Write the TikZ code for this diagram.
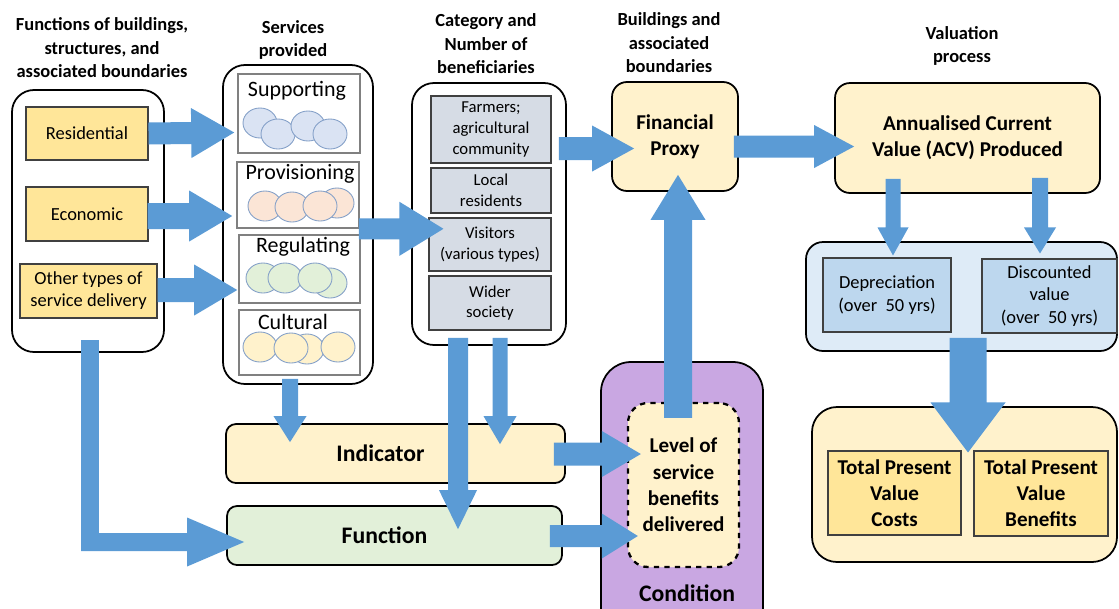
\documentclass[tikz,border=0pt]{standalone}
\usepackage{fontspec}
\setmainfont{Carlito}
\usetikzlibrary{calc}
\usetikzlibrary{positioning}
\definecolor{arrowblue}{RGB}{91,155,213}
\definecolor{gold}{RGB}{255,230,153}
\definecolor{cream}{RGB}{255,242,204}
\definecolor{slate}{RGB}{214,220,229}
\definecolor{paleblue}{RGB}{222,235,247}
\definecolor{midblue}{RGB}{189,215,238}
\definecolor{palegreen}{RGB}{226,240,217}
\definecolor{lilac}{RGB}{201,167,226}
\definecolor{peach}{RGB}{251,229,214}
\definecolor{skyfill}{RGB}{218,227,243}
\definecolor{ellline}{RGB}{132,160,200}
\definecolor{edgegray}{RGB}{64,64,64}
% block arrow: start, tip, shaft half width, head half width, head length (px)
\newcommand{\blockarrow}[5]{%
  \coordinate (hb) at ($(#2)!#5*0.2mm!(#1)$);
  \fill[arrowblue] ($(#1)!#3*0.2mm!90:(#2)$) -- ($(hb)!#3*0.2mm!-90:(#1)$)
    -- ($(hb)!#4*0.2mm!-90:(#1)$) -- (#2) -- ($(hb)!#4*0.2mm!90:(#1)$)
    -- ($(hb)!#3*0.2mm!90:(#1)$) -- ($(#1)!#3*0.2mm!-90:(#2)$) -- cycle;
}
\tikzset{
  heading/.style={align=center, font=\fontsize{10.5}{13.4}\selectfont\bfseries, inner sep=0pt},
  holder/.style={draw=black, line width=1pt, fill=white, rounded corners=4.4mm},
  goldbox/.style={draw=edgegray, line width=0.6pt, fill=gold, align=center, inner sep=0pt,
    font=\fontsize{10.5}{12.5}\selectfont},
  servbox/.style={draw=gray, line width=0.9pt, fill=white, inner sep=0pt},
  servtitle/.style={font=\fontsize{12.5}{14}\selectfont, inner sep=0pt},
  benbox/.style={draw=edgegray, line width=0.6pt, fill=slate, align=center, inner sep=0pt,
    font=\fontsize{9.5}{11.9}\selectfont},
  roundbox/.style={draw=black, line width=1pt, rounded corners=3mm, align=center, inner sep=0pt,
    font=\fontsize{12}{15}\selectfont\bfseries},
  bandbox/.style={draw=black, line width=1pt, rounded corners=2mm, inner sep=0pt,
    font=\fontsize{13.5}{15}\selectfont\bfseries},
  valbox/.style={draw=edgegray, line width=0.6pt, fill=midblue, align=center, inner sep=0pt,
    font=\fontsize{10.5}{13}\selectfont},
  totbox/.style={draw=edgegray, line width=0.6pt, fill=gold, align=center, inner sep=0pt,
    font=\fontsize{12}{14.8}\selectfont\bfseries},
  ell/.style={draw=ellline, line width=0.5pt}
}

\begin{document}
\begin{tikzpicture}[x=0.2mm,y=-0.2mm]
\useasboundingbox (0,0) rectangle (1119,608);
\clip (0,0) rectangle (1119,608);

% column headings
\node[heading] (hfunc) at (102,48) {Functions of buildings,\\structures, and\\associated boundaries};
\node[heading] (hserv) at (293,40) {Services\\provided};
\node[heading] (hcat) at (486,44) {Category and\\Number of\\beneficiaries};
\node[heading] (hbuild) at (669,43) {Buildings and\\associated\\boundaries};
\node[heading] (hval) at (962,46) {Valuation\\process};

% functions
\node[holder, minimum width=30.4mm, minimum height=52.4mm] (funcs) at (88,221) {};
\node[goldbox, minimum width=24.4mm, minimum height=10.6mm] (res) at (87,133.5) {Residential};
\node[goldbox, minimum width=24.4mm, minimum height=10.8mm] (eco) at (87,214) {Economic};
\node[goldbox, minimum width=27.4mm, minimum height=10.8mm] (oth) at (88.5,291) {Other types of\\service delivery};

% services
\node[holder, minimum width=30mm, minimum height=63.8mm] (srv) at (298,224.5) {};
\node[servbox, minimum width=24.4mm, minimum height=15.8mm] (sup) at (299,113.5) {};
\node[servbox, minimum width=24.4mm, minimum height=13.2mm] (prov) at (298,195) {};
\node[servbox, minimum width=24.2mm, minimum height=13.6mm] (reg) at (299.5,269) {};
\node[servbox, minimum width=24.2mm, minimum height=13mm] (cul) at (299.5,342.5) {};
\node[servtitle] (tsup) at (297,91) {Supporting};
\node[servtitle] (tprov) at (300,174) {Provisioning};
\node[servtitle] (treg) at (303,247) {Regulating};
\node[servtitle] (tcul) at (293,322) {Cultural};
\foreach \cx/\cy in {260/123, 278/134, 308/126, 330/134}
  \draw[ell, fill=skyfill] (\cx,\cy) ellipse [x radius=3.4mm, y radius=3mm];
\foreach \cx/\cy in {337/203, 265/206, 292/207, 320/206}
  \draw[ell, fill=peach] (\cx,\cy) ellipse [x radius=3.4mm, y radius=3mm];
\foreach \cx/\cy in {330/283, 263/278, 285/278, 315/278}
  \draw[ell, fill=palegreen] (\cx,\cy) ellipse [x radius=3.4mm, y radius=3mm];
\foreach \cx/\cy in {260/347, 307/349, 291/348, 338/347}
  \draw[ell, fill=cream] (\cx,\cy) ellipse [x radius=3.4mm, y radius=3mm];

% beneficiaries
\node[holder, minimum width=30.8mm, minimum height=52.4mm] (cat) at (489,214) {};
\node[benbox, minimum width=24mm, minimum height=13.4mm] (farm) at (491,129.5) {Farmers;\\agricultural\\community};
\node[benbox, minimum width=24mm, minimum height=9mm] (loc) at (491,190.5) {Local\\residents};
\node[benbox, minimum width=24.4mm, minimum height=10.6mm] (vis) at (490,244.5) {Visitors\\(various types)};
\node[benbox, minimum width=24.4mm, minimum height=10.8mm] (wid) at (490,303) {Wider\\society};

% proxy and valuation
\node[roundbox, fill=cream, minimum width=25.2mm, minimum height=21.8mm] (fp) at (675,136.5) {Financial\\Proxy};
\node[roundbox, fill=cream, minimum width=53mm, minimum height=22mm] (acv) at (967.5,138) {Annualised Current\\Value (ACV) Produced};
\node[holder, fill=paleblue, rounded corners=3.4mm, minimum width=62.2mm, minimum height=21.8mm] (val) at (961.5,296.5) {};
\node[valbox, minimum width=25.6mm, minimum height=14.8mm] (dep) at (887,295) {Depreciation\\(over\ \ 50 yrs)};
\node[valbox, minimum width=27mm, minimum height=14.8mm] (dis) at (1049.5,296) {Discounted\\value\\(over\ \ 50 yrs)};
\node[holder, fill=cream, rounded corners=5mm, minimum width=61mm, minimum height=31mm] (tot) at (964.5,484.5) {};
\node[totbox, minimum width=26.6mm, minimum height=16.8mm] (tpc) at (894.5,493) {Total Present\\Value\\Costs};
\node[totbox, minimum width=26.8mm, minimum height=17mm] (tpb) at (1041,493.5) {Total Present\\Value\\Benefits};

% indicator, function, condition
\node[bandbox, fill=cream, minimum width=67.8mm, minimum height=11.8mm] (ind) at (395.5,453.5) {Indicator\hspace{6mm}\mbox{}};
\node[bandbox, fill=palegreen, minimum width=67mm, minimum height=11.8mm] (fn) at (394.5,535.5) {Function\hspace{4mm}\mbox{}};
\node[holder, fill=lilac, rounded corners=6mm, minimum width=32.4mm, minimum height=55.6mm] (cond) at (682,501) {};
\node[roundbox, dashed, line width=1.3pt, rounded corners=4mm, fill=cream, minimum width=22.2mm, minimum height=32.8mm] (lvl) at (683.5,485) {Level of\\service\\benefits\\delivered};
\node[font=\fontsize{13.5}{15}\selectfont\bfseries, inner sep=0pt] (condlbl) at (687,593) {Condition};

% arrows
\coordinate (a1s) at (res.east);
\coordinate (a1e) at ($(res.east -| sup.west)+(-3,-1)$);
\blockarrow{a1s}{a1e}{11}{25}{43}
\coordinate (a2s) at ($(eco.east)+(-1,2)$);
\coordinate (a2e) at ($(eco.east -| prov.west)+(-4,2)$);
\blockarrow{a2s}{a2e}{13}{25.5}{43}
\coordinate (a3s) at ($(oth.east)+(0,-1)$);
\coordinate (a3e) at ($(oth.east -| reg.west)+(-1,-1)$);
\blockarrow{a3s}{a3e}{12}{25.5}{43}
\coordinate (a4s) at ($(prov.south east)+(-1,0)$);
\coordinate (a4e) at ($(prov.south east -| vis.west)+(15,0)$);
\blockarrow{a4s}{a4e}{10.5}{27}{44}
\coordinate (a5e) at ($(fp.west)+(23,12)$);
\coordinate (a5s) at ($(cat.east |- a5e)+(-8,0)$);
\blockarrow{a5s}{a5e}{11.5}{23}{42}
\coordinate (a6s) at ($(fp.east)+(-5,10)$);
\coordinate (a6e) at ($(a6s -| acv.west)+(20,0)$);
\blockarrow{a6s}{a6e}{11}{21.5}{40}
\coordinate (a7e) at ($(dep.north)+(6,-2)$);
\coordinate (a7s) at ($(a7e |- acv.south)+(0,-15)$);
\blockarrow{a7s}{a7e}{7.5}{15.5}{28}
\coordinate (a8e) at ($(dis.north)+(-9.5,-5)$);
\coordinate (a8s) at ($(a8e |- acv.south)+(0,-16)$);
\blockarrow{a8s}{a8e}{8}{16}{26}
\coordinate (a9s) at ($(val.south)+(6.5,-14)$);
\coordinate (a9e) at ($(a9s |- tpc.north)+(0,2)$);
\blockarrow{a9s}{a9e}{18.5}{37.5}{50}
\coordinate (a10s) at ($(srv.south)+(-8,-6)$);
\coordinate (a10e) at ($(a10s |- ind.north)+(0,19)$);
\blockarrow{a10s}{a10e}{8}{16.5}{26}
\coordinate (a11s) at ($(cat.south)+(-31,-8)$);
\coordinate (a11e) at ($(a11s |- fn.north)+(0,24)$);
\blockarrow{a11s}{a11e}{10}{19}{39}
\coordinate (a12s) at ($(cat.south)+(11,-8)$);
\coordinate (a12e) at ($(a12s |- ind.north)+(0,21)$);
\blockarrow{a12s}{a12e}{7.5}{16.5}{28}
\coordinate (a13s) at ($(ind.east)+(-12,0.5)$);
\coordinate (a13e) at ($(a13s -| lvl.west)+(14,0)$);
\blockarrow{a13s}{a13e}{11.5}{23}{39}
\coordinate (a14s) at ($(fn.east)+(-13,0.5)$);
\coordinate (a14e) at ($(a14s -| lvl.west)+(11,0)$);
\blockarrow{a14s}{a14e}{11}{22.5}{36}
\coordinate (a15s) at ($(lvl.north)+(-5.5,16)$);
\coordinate (a15e) at ($(a15s |- fp.south)+(0,-17)$);
\blockarrow{a15s}{a15e}{14}{27.5}{45}
% elbow from functions down to function band
\coordinate (a16s) at ($(funcs.south)+(2,-13)$);
\coordinate (a16e) at ($(fn.west)+(18,6.5)$);
\coordinate (a16c) at (a16s |- a16e);
\fill[arrowblue] ($(a16s)+(-9,0)$) rectangle ($(a16c)+(9,9)$);
\coordinate (a16k) at ($(a16c)+(-9,0)$);
\blockarrow{a16k}{a16e}{9}{24.5}{57}
\end{tikzpicture}
\end{document}
